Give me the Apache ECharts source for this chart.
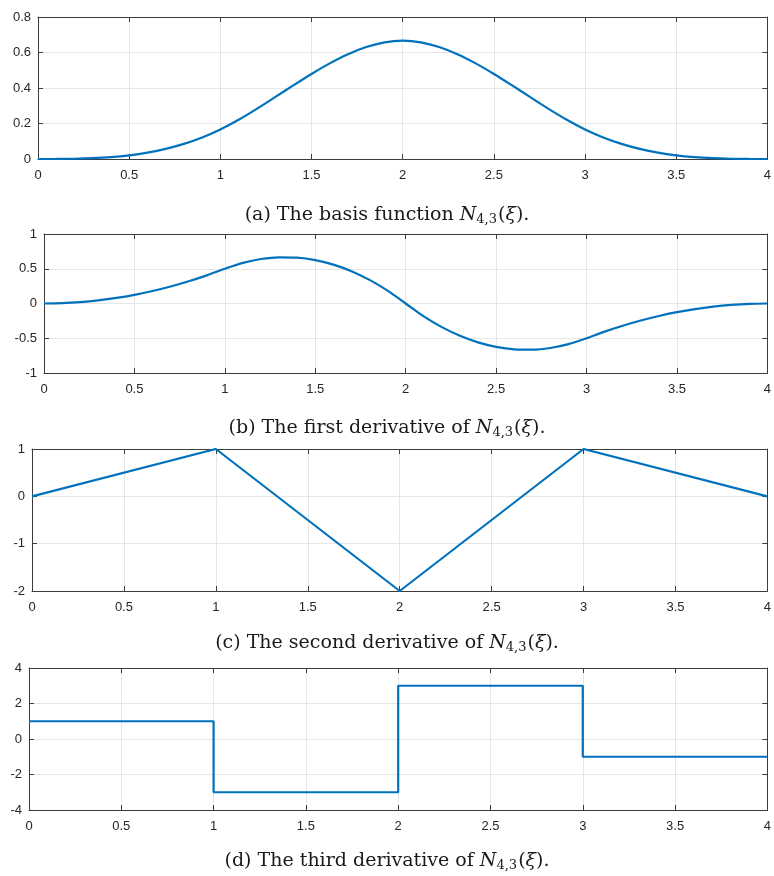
<!DOCTYPE html>
<html><head><meta charset="utf-8">
<script src="https://cdn.jsdelivr.net/npm/echarts@6/dist/echarts.min.js"></script>
<style>html,body{margin:0;padding:0;background:#fff}#c{width:774px;height:876px}</style>
</head><body><div id="c"></div>
<script>
// sample positions (xi)
const xs = [0,0.1,0.2,0.3,0.4,0.5,0.6,0.7,0.8,0.9,1,1.1,1.2,1.3,1.4,1.5,1.6,1.7,1.8,1.9,2,2.1,2.2,2.3,2.4,2.5,2.6,2.7,2.8,2.9,3,3.1,3.2,3.3,3.4,3.5,3.6,3.7,3.8,3.9,4];
// (a) basis function N_{4,3}
const basisVals = [0,0.0002,0.0013,0.0045,0.0107,0.0208,0.036,0.0572,0.0853,0.1215,0.1667,0.2212,0.2827,0.3482,0.4147,0.4792,0.5387,0.5902,0.6307,0.6572,0.6667,0.6572,0.6307,0.5902,0.5387,0.4792,0.4147,0.3482,0.2827,0.2212,0.1667,0.1215,0.0853,0.0572,0.036,0.0208,0.0107,0.0045,0.0013,0.0002,0];
// (b) first derivative
const d1Vals = [0,0.005,0.02,0.045,0.08,0.125,0.18,0.245,0.32,0.405,0.5,0.585,0.64,0.665,0.66,0.625,0.56,0.465,0.34,0.185,0,-0.185,-0.34,-0.465,-0.56,-0.625,-0.66,-0.665,-0.64,-0.585,-0.5,-0.405,-0.32,-0.245,-0.18,-0.125,-0.08,-0.045,-0.02,-0.005,0];
// (c) second derivative
const d2X = [0,1,2,3,4];
const d2Vals = [0,1,-2,1,0];
// (d) third derivative (piecewise constant)
const d3X = [0,1,1,2,2,3,3,4];
const d3Vals = [1,1,-3,-3,3,3,-1,-1];

const xTicks = {min:0,max:4,interval:0.5};
const yRanges = [
  {min:0,max:0.8,interval:0.2},
  {min:-1,max:1,interval:0.5},
  {min:-2,max:1,interval:1},
  {min:-4,max:4,interval:2}
];
const captions = [
  '(a) The basis function ',
  '(b) The first derivative of ',
  '(c) The second derivative of ',
  '(d) The third derivative of '
];

const grids = [
  {left:38,right:5,top:17,height:142},
  {left:44,right:5,top:234,height:139},
  {left:32,right:5,top:449,height:142},
  {left:29,right:5,top:668,height:142}
];
const captionTops = [199,412,627,845];

const axisColor = '#3c3c3c';
const labelStyle = {color:'#262626',fontFamily:'Liberation Sans, Arial, sans-serif',fontSize:13};
const gridLine = {show:true,lineStyle:{color:'#e6e6e6',width:1}};

const xAxis=[], yAxis=[], series=[], title=[];
const zip = (a,b)=>a.map((v,i)=>[v,b[i]]);
const seriesData = [zip(xs,basisVals), zip(xs,d1Vals), zip(d2X,d2Vals), zip(d3X,d3Vals)];
const serif = 'DejaVu Serif, Liberation Serif, serif';

grids.forEach((g,i)=>{
  xAxis.push({gridIndex:i,type:'value',position:'bottom',...xTicks,
    axisLine:{show:true,onZero:false,lineStyle:{color:axisColor}},
    axisTick:{show:true,inside:true,length:5,lineStyle:{color:axisColor}},
    axisLabel:{...labelStyle,margin:10,formatter:v=>String(v)},
    splitLine:gridLine});
  xAxis.push({gridIndex:i,type:'value',position:'top',...xTicks,
    axisLine:{show:true,onZero:false,lineStyle:{color:axisColor}},
    axisTick:{show:true,inside:true,length:5,lineStyle:{color:axisColor}},
    axisLabel:{show:false},splitLine:{show:false}});
  yAxis.push({gridIndex:i,type:'value',position:'left',...yRanges[i],
    axisLine:{show:true,onZero:false,lineStyle:{color:axisColor}},
    axisTick:{show:true,inside:true,length:5,lineStyle:{color:axisColor}},
    axisLabel:{...labelStyle,margin:7,formatter:v=>String(v)},
    splitLine:gridLine});
  yAxis.push({gridIndex:i,type:'value',position:'right',...yRanges[i],
    axisLine:{show:true,onZero:false,lineStyle:{color:axisColor}},
    axisTick:{show:true,inside:true,length:5,lineStyle:{color:axisColor}},
    axisLabel:{show:false},splitLine:{show:false}});
  series.push({type:'line',xAxisIndex:2*i,yAxisIndex:2*i,data:seriesData[i],
    smooth:i<2?0.3:false,showSymbol:false,symbol:'none',animation:false,
    lineStyle:{color:'#0072BD',width:2.2}});
  title.push({left:'center',top:captionTops[i],
    text:'{r|'+captions[i]+'}{n|N}{s|4,3}{r|(}{n|ξ}{r|).}',
    textStyle:{fontWeight:'normal',rich:{
      r:{fontFamily:serif,fontSize:19,fontWeight:'normal',color:'#1a1a1a'},
      n:{fontFamily:serif,fontSize:19,fontWeight:'normal',fontStyle:'italic',color:'#1a1a1a'},
      s:{fontFamily:serif,fontSize:13,fontWeight:'normal',color:'#1a1a1a',verticalAlign:'bottom',padding:[9,1,0,0]}
    }}});
});

const chart = echarts.init(document.getElementById('c'),null,{renderer:'canvas'});
chart.setOption({animation:false,backgroundColor:'#fff',grid:grids,xAxis,yAxis,series,title});
</script></body></html>
